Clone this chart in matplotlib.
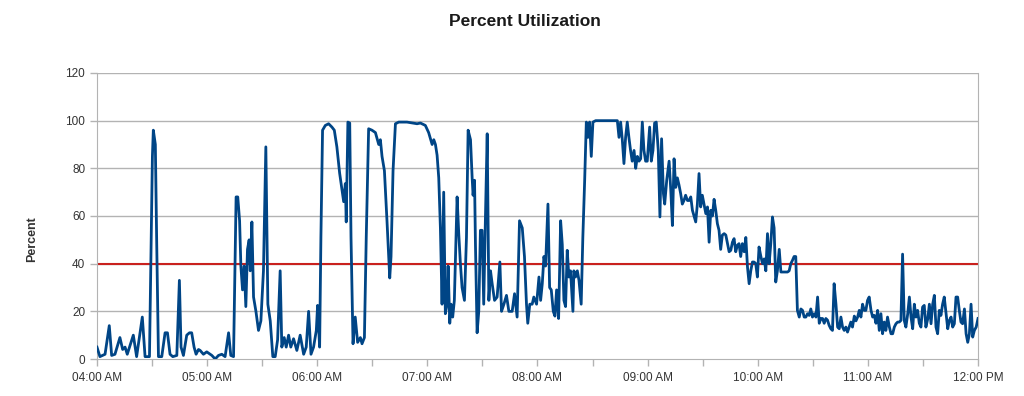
import datetime as dt
import matplotlib
matplotlib.use("Agg")
import matplotlib.pyplot as plt
import matplotlib.dates as mdates

# Data: minutes after 04:00 and percent utilization
minutes = [
    0, 1.6, 4.4, 6.7, 8.0, 9.8, 12.5, 14.0, 15.3, 16.5, 19.8, 21.6, 24.7, 26.2, 28.6,
    30.2, 30.7, 31.8, 32.5, 33.5, 35.3, 37.1, 38.4, 39.8, 41.3, 43.5, 44.9, 45.8, 47.1,
    48.9, 50.4, 51.6, 52.9, 54.0, 55.3, 56.2, 58.0, 59.8, 62.6, 64.4, 66.2, 68.0, 69.8,
    71.7, 72.9, 74.4, 75.8, 76.7, 77.7, 78.4, 79.3, 80.2, 81.1, 82.0, 82.9, 83.5, 84.4,
    85.3, 86.6, 88.0, 89.3, 90.7, 92.0, 93.1, 94.4, 95.8, 97.1, 98.4, 99.8, 100.7, 102.0,
    103.1, 104.4, 105.6, 107.1, 108.9, 110.7, 112.6, 114.0, 115.3, 116.6, 118.0, 119.5,
    120.2, 121.3, 122.0, 122.9, 124.4, 126.2, 128.0, 129.3, 130.7, 132.2, 133.5, 134.4,
    135.3, 135.8, 136.7, 137.7, 138.4, 139.5, 140.7, 142.0, 143.5, 144.4, 145.7, 146.7,
    148.0, 149.8, 151.7, 153.5, 154.4, 155.3, 156.6, 158.0, 159.5, 160.2, 161.3, 162.6,
    164.4, 168.9, 174.4, 176.2, 178.9, 180.7, 182.6, 183.5, 184.4, 185.3, 186.2, 187.1,
    188.0, 188.9, 189.8, 190.7, 191.3, 192.2, 192.9, 193.8, 194.7, 196.2, 197.1, 198.0,
    198.9, 200.2, 201.3, 202.2, 203.5, 204.4, 204.9, 205.7, 206.2, 207.1, 208.0, 208.9,
    209.8, 210.7, 211.6, 212.6, 213.5, 214.4, 215.3, 216.6, 218.0, 219.5, 220.4, 221.7,
    223.1, 224.4, 226.2, 227.5, 228.9, 230.2, 231.7, 232.9, 234.0, 234.7, 235.8, 237.1,
    238.0, 239.5, 240.8, 241.7, 242.6, 243.5, 244.4, 245.7, 246.6, 247.5, 248.6, 249.5,
    250.4, 251.5, 252.6, 253.5, 254.4, 255.3, 256.2, 257.1, 258.0, 259.3, 259.8, 260.7,
    261.7, 262.6, 263.8, 264.7, 265.7, 266.6, 267.5, 268.4, 269.3, 270.2, 271.7, 283.5,
    284.4, 285.3, 286.2, 287.1, 288.0, 288.9, 289.8, 290.7, 291.6, 292.6, 293.5, 294.4,
    295.3, 296.2, 297.1, 298.0, 298.9, 299.8, 301.1, 302.0, 302.9, 303.8, 304.7, 305.8,
    306.7, 307.6, 308.6, 309.3, 310.4, 311.7, 312.6, 313.5, 314.4, 315.3, 316.2, 317.1,
    318.0, 318.9, 319.8, 320.7, 321.7, 322.6, 323.5, 324.4, 325.3, 326.2, 327.1, 328.0,
    328.9, 329.8, 330.7, 331.7, 332.6, 333.5, 334.4, 335.3, 336.2, 337.1, 338.0, 338.9,
    339.8, 340.7, 341.7, 342.6, 343.5, 344.4, 345.3, 346.2, 347.1, 348.0, 348.9, 349.8,
    350.7, 351.6, 352.6, 353.5, 354.4, 355.3, 356.2, 357.1, 358.0, 358.9, 359.8, 360.7,
    361.7, 362.6, 363.5, 364.4, 365.3, 366.2, 367.1, 368.0, 368.9, 369.8, 370.7, 371.7,
    372.6, 376.2, 377.1, 378.0, 378.9, 379.8, 380.7, 381.6, 382.6, 383.5, 384.4, 385.3,
    386.2, 387.1, 388.0, 388.9, 389.8, 390.7, 391.7, 392.6, 393.5, 394.4, 395.3, 396.2,
    397.1, 398.0, 398.9, 399.8, 400.7, 401.6, 402.6, 403.5, 404.4, 405.3, 406.2, 407.1,
    408.0, 408.9, 409.8, 410.7, 411.6, 412.6, 413.5, 414.4, 415.3, 416.2, 417.1, 418.0,
    418.9, 419.8, 420.7, 421.7, 422.6, 423.5, 424.4, 425.3, 426.2, 427.1, 428.0, 428.9,
    429.8, 430.7, 431.7, 432.6, 433.5, 434.4, 435.3, 436.2, 437.1, 438.0, 438.9, 439.8,
    440.7, 441.7, 442.6, 443.5, 444.4, 445.3, 446.2, 447.1, 448.0, 448.9, 449.8, 450.7,
    451.6, 452.6, 453.5, 454.4, 455.3, 456.2, 457.1, 458.0, 458.9, 459.8, 460.7, 461.6,
    462.6, 463.5, 464.4, 465.3, 466.2, 467.1, 468.0, 468.9, 469.8, 470.7, 471.6, 472.6,
    473.5, 474.4, 475.3, 476.2, 477.1, 478.0, 479.0, 480.0,
]
percent = [
    5, 1, 2, 14, 1.5, 2, 9, 4, 5, 2, 10, 1, 17.6, 1, 1,
    85, 96, 90, 51, 1, 1, 11, 11, 2, 1, 1.5, 33, 5, 1.5,
    10, 11, 11, 5, 2, 4, 3.6, 2, 3, 1.5, 0, 1.5, 2, 1,
    11, 1.5, 1, 68, 68, 58, 39, 29, 39, 22, 46, 50, 37, 57.5,
    26, 20, 12, 16, 37, 89, 23, 16, 1, 1, 8, 37, 5, 9,
    5, 10, 5, 8.5, 3.6, 10, 2, 5, 20, 2, 5, 12,
    22.5, 5, 51, 96, 98, 98.7, 97.3, 96, 89, 78, 71, 66,
    73.6, 57.5, 99.4, 99, 51, 6.4, 17.6, 7, 9, 6.4, 9, 51,
    96.6, 96, 95, 90, 92, 85, 79, 58, 34, 43, 79, 98.7,
    99.4, 99.4, 98.7, 99, 98, 95, 90, 92, 90, 85.5, 76, 55,
    23, 70, 19, 23, 39, 15, 23, 17.6, 24.6, 68, 52.6, 40,
    30, 24.6, 51, 96, 92, 76, 68.7, 75, 48, 11, 20, 54,
    54, 23, 58, 94.5, 24.6, 37, 31.6, 24.6, 26, 40.7, 20, 23,
    26.7, 20, 20, 27.4, 17.6, 58, 55, 43, 23, 15, 23, 23,
    26, 23, 34.4, 24.6, 31.6, 43, 39, 65, 30, 29, 20, 18,
    29, 17, 58, 48, 24.6, 22, 45.6, 34.4, 37, 20, 37, 34.4,
    37, 33, 23, 51, 75, 99.4, 93, 99.4, 85, 99.4, 100, 100,
    93, 99.4, 92, 82, 93, 99.4, 93, 87.5, 83, 87.5, 80, 85,
    83, 84, 99.4, 87.5, 83, 83, 97.3, 83, 87.5, 99, 99.4, 87.5,
    59.6, 92.4, 69.4, 65, 75, 83, 71, 56, 84, 72, 76, 73,
    69.4, 65, 66.5, 68.7, 66.5, 66.5, 68, 62.4, 60, 57.5, 65, 77.8,
    63.8, 68.7, 65, 61, 63.8, 49, 62.4, 60, 67, 62.4, 56.8, 54,
    46, 52, 52.6, 52, 48.4, 45, 45.6, 49, 50.5, 45, 47.7, 48.4,
    43, 48.4, 45, 51, 38.6, 31.6, 37, 40.7, 40.7, 40, 34.4, 47,
    43, 40, 42, 37, 52.6, 40, 48.4, 59.6, 55, 32.3, 37, 46,
    36.5, 36.5, 37, 40, 41.4, 43, 43, 20.4, 17.6, 21, 20.4, 17.6,
    17.6, 19, 18.3, 21, 17.6, 19, 17.6, 26, 15, 17, 17, 15,
    17, 16.3, 14.1, 12.7, 12, 31.6, 23, 13.4, 12.7, 17.6, 13.4, 12,
    13.4, 11.3, 13.4, 15.5, 13.4, 18, 16, 17.6, 20.4, 17.6, 23, 20.4,
    20.4, 24.6, 26, 20.4, 17.6, 18.3, 15, 20.4, 12, 19, 10.6, 15.5,
    12, 17.6, 13.4, 10.6, 10.6, 13.4, 14.8, 15.5, 15.5, 16.2, 44, 16.2,
    13.4, 19, 26, 17.6, 12.7, 23, 17.6, 20.4, 15, 13.4, 21.8, 22.5,
    13.4, 16.8, 23, 14.8, 23, 26.7, 13.4, 10.6, 20.4, 18.3, 23, 26,
    19, 12.7, 16.2, 17.6, 13.4, 14.8, 26, 26, 20.4, 15.5, 14.8, 21,
    10.6, 7, 10.6, 23, 9.2, 12, 13.4, 17,
]
threshold = 40
y_ticks = [0, 20, 40, 60, 80, 100, 120]

start = dt.datetime(2000, 1, 1, 4, 0)
times = [start + dt.timedelta(minutes=m) for m in minutes]

plt.rcParams['font.family'] = ['Liberation Sans', 'DejaVu Sans']

fig = plt.figure(figsize=(10.24, 3.96), dpi=100)
ax = fig.add_axes([0.0947, 0.0934, 0.8604, 0.7223])

grid_col = "#b3b3b3"
for v in y_ticks[1:]:
    ax.axhline(v, color=grid_col, lw=1.0, zorder=1)
ax.axhline(threshold, color="#c9211e", lw=1.5, zorder=2)
ax.plot(times, percent, color="#004586", lw=2.0, zorder=3, solid_joinstyle="round")

ax.set_xlim(start, start + dt.timedelta(hours=8))
ax.set_ylim(0, 120)
ax.set_yticks(y_ticks)
ax.xaxis.set_major_locator(mdates.HourLocator())
ax.xaxis.set_major_formatter(mdates.DateFormatter("%I:%M %p"))
ax.xaxis.set_minor_locator(mdates.MinuteLocator(byminute=[30]))
ax.tick_params(axis="both", which="both", length=5, width=1, color=grid_col,
               labelsize=8.5, labelcolor="#333333")
ax.tick_params(axis="x", pad=4)
for side in ["left", "right", "bottom"]:
    ax.spines[side].set_color(grid_col)
ax.spines["top"].set_visible(False)

fig.text(0.513, 0.945, "Percent Utilization", ha="center", va="center",
         fontsize=12.5, fontweight="bold", color="#1a1a1a")
fig.text(0.031, 0.395, "Percent", ha="center", va="center", rotation=90,
         fontsize=9, fontweight="bold", color="#333333")

fig.savefig("out.png", dpi=100)
